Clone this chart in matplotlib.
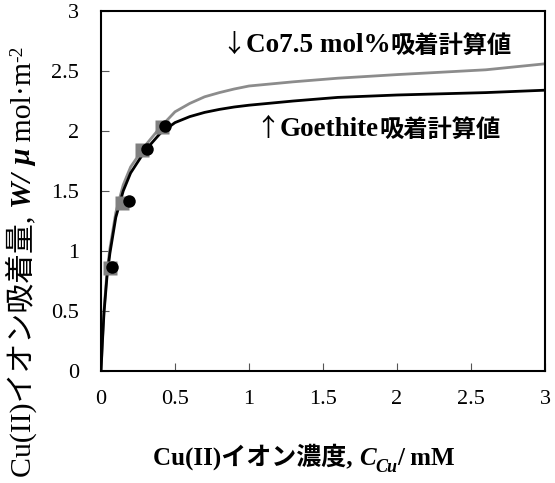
import matplotlib
matplotlib.use("Agg")
import matplotlib.pyplot as plt

SERIF = "Liberation Serif"
CJK = "Noto Sans CJK JP"
plt.rcParams["font.family"] = [SERIF, CJK]

# calculated adsorption curves
curve_conc = [0, 0.01, 0.02, 0.04, 0.06, 0.1, 0.15, 0.2, 0.3, 0.4, 0.5, 0.6, 0.7,
              0.8, 0.9, 1.0, 1.3, 1.6, 2.0, 2.3, 2.6, 3.0]
curve_goethite = [0, 0.25, 0.48, 0.78, 0.98, 1.28, 1.5, 1.65, 1.84, 1.98, 2.07, 2.12,
                  2.155, 2.18, 2.20, 2.215, 2.25, 2.28, 2.30, 2.31, 2.32, 2.34]
curve_co = [0, 0.27, 0.5, 0.82, 1.02, 1.32, 1.55, 1.70, 1.88, 2.03, 2.16, 2.23,
            2.285, 2.32, 2.35, 2.375, 2.41, 2.44, 2.47, 2.49, 2.51, 2.56]

# measured points
conc_co = [0.06, 0.14, 0.28, 0.41]
ads_co = [0.86, 1.40, 1.84, 2.03]
conc_goe = [0.075, 0.19, 0.31, 0.43]
ads_goe = [0.87, 1.42, 1.85, 2.04]

ticks = [0, 0.5, 1, 1.5, 2, 2.5, 3]
tick_labels = ["0", "0.5", "1", "1.5", "2", "2.5", "3"]

fig = plt.figure(figsize=(5.55, 4.83), dpi=100)
ax = fig.add_axes([101 / 555, 112 / 483, 444 / 555, 360 / 483])

ax.plot(curve_conc, curve_co, color="#8c8c8c", lw=2.0, zorder=2)
ax.plot(curve_conc, curve_goethite, color="black", lw=2.0, zorder=3)
ax.plot(conc_co, ads_co, "s", color="#808080", ms=10.5, mec="none", zorder=4)
ax.plot(conc_goe, ads_goe, "o", color="black", ms=9, mec="none", zorder=5)

ax.set_xlim(0, 3)
ax.set_ylim(0, 3)
ax.set_xticks(ticks)
ax.set_xticklabels(tick_labels)
ax.set_yticks(ticks)
ax.set_yticklabels(tick_labels)
ax.tick_params(direction="in", length=6, width=0.8, color="#555555", labelsize=16)
ax.tick_params(axis="x", pad=14)
ax.tick_params(axis="y", pad=16)
for sp in ax.spines.values():
    sp.set_linewidth(1.5)


def chain(start, pieces, **common):
    # place text pieces one after another, left to right
    t = start
    for s, kw in pieces:
        t = ax.annotate(s, xy=(1, 0), xycoords=t, ha="left", va="bottom",
                        **common, **kw)
    return t


# in-plot notes: arrow, latin part and kanji part in their own sizes
t = ax.text(0.81, 2.61, "↓", fontsize=18, family=CJK, ha="left", va="bottom")
chain(t, [("Co7.5 mol%", dict(fontsize=19.5, family=SERIF)),
          ("吸着計算値", dict(fontsize=17.5, family=CJK))], fontweight="bold")
t = ax.text(1.04, 1.91, "↑", fontsize=18, family=CJK, ha="left", va="bottom")
chain(t, [("Goethite", dict(fontsize=19.5, family=SERIF)),
          ("吸着計算値", dict(fontsize=17.5, family=CJK))], fontweight="bold")

# x label, built from pieces so the italic symbol can be mixed in
LS = 18
t = fig.text(153 / 555, 13 / 483, "Cu(II)イオン濃度, ", fontsize=LS,
             fontweight="bold", ha="left", va="bottom")
t = ax.annotate("C", xy=(1, 0), xycoords=t, fontsize=LS, fontweight="bold",
                fontstyle="italic", family=SERIF, ha="left", va="bottom")
t = ax.annotate("Cu", xy=(1, 0), xycoords=t, xytext=(0, -4), textcoords="offset points",
                fontsize=13, fontweight="bold", fontstyle="italic", family=SERIF,
                ha="left", va="bottom")
ax.annotate("/ mM", xy=(1, 0), xycoords=t, xytext=(0, 4), textcoords="offset points",
            fontsize=LS, fontweight="bold", ha="left", va="bottom")

# y label, rotated pieces stacked upward
YS = 21.5
t = fig.text(37 / 555, 6 / 483, "Cu(II)イオン吸着量, ", fontsize=YS, rotation=90,
             ha="right", va="bottom")
t = ax.annotate("W/ ", xy=(1, 1), xycoords=t, fontsize=YS, fontweight="bold",
                fontstyle="italic", family=SERIF, rotation=90, ha="right", va="bottom")
t = ax.annotate("μ", xy=(1, 1), xycoords=t, fontsize=YS, fontweight="bold",
                fontstyle="italic", family=SERIF, rotation=90, ha="right", va="bottom")
t = ax.annotate(" mol·m", xy=(1, 1), xycoords=t, fontsize=YS, family=SERIF,
                rotation=90, ha="right", va="bottom")
ax.annotate("-2", xy=(1, 1), xycoords=t, xytext=(-8, 0), textcoords="offset points",
            fontsize=14, family=SERIF, rotation=90, ha="right", va="bottom")

fig.savefig("out.png", dpi=100)
